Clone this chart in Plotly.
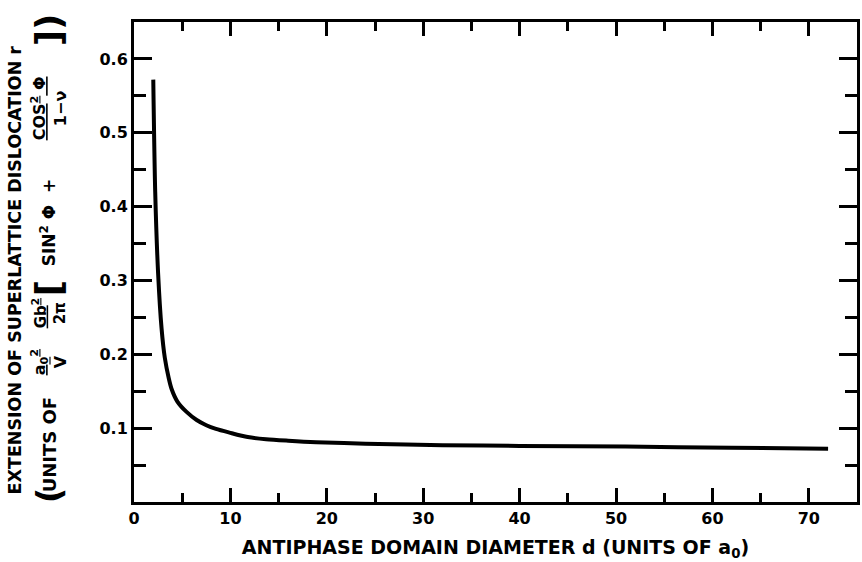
import plotly.graph_objects as go

# Data
diameter_d = [2.0, 2.2, 2.5, 2.86, 3.2, 3.6, 3.9, 4.5, 5.45, 6.5, 7.5, 8.5, 9.9,
              11.8, 13.7, 16.0, 18.9, 24.0, 32.0, 40.0, 51.0, 62.0, 72.0]
extension_r = [0.572, 0.42, 0.31, 0.235, 0.195, 0.168, 0.153, 0.136, 0.122, 0.111,
               0.104, 0.099, 0.094, 0.088, 0.085, 0.083, 0.081, 0.079, 0.077, 0.076,
               0.075, 0.0735, 0.072]

x_tickvals = [0, 10, 20, 30, 40, 50, 60, 70]
x_ticktext = ["0", "10", "20", "30", "40", "50", "60", "70"]
y_tickvals = [0.1, 0.2, 0.3, 0.4, 0.5, 0.6]
y_ticktext = ["0.1", "0.2", "0.3", "0.4", "0.5", "0.6"]

W, H = 862, 562
L, R, T, B = 134, 2, 22, 60
PW, PH = W - L - R, H - T - B

FONT = "DejaVu Sans"

fig = go.Figure()
fig.add_trace(go.Scatter(x=diameter_d, y=extension_r, mode="lines",
                         line=dict(color="black", width=4, shape="spline", smoothing=0.8),
                         showlegend=False, hoverinfo="skip"))

axis_common = dict(showline=True, linecolor="black", linewidth=3, mirror="ticks",
                   ticks="inside", tickcolor="black", tickwidth=3,
                   showgrid=False, zeroline=False,
                   tickfont=dict(family=FONT, size=16, color="black", weight="bold"))

fig.update_xaxes(range=[0, 75], tickmode="array", tickvals=x_tickvals, ticktext=x_ticktext,
                 ticklen=14, minor=dict(dtick=5, tick0=0, ticks="inside", ticklen=9,
                                        tickwidth=3, tickcolor="black"),
                 title=dict(text="ANTIPHASE DOMAIN DIAMETER d (UNITS OF a<sub>0</sub>)",
                            font=dict(family=FONT, size=19, color="black", weight="bold"),
                            standoff=14),
                 **axis_common)
fig.update_yaxes(range=[0, 0.65], tickmode="array", tickvals=y_tickvals, ticktext=y_ticktext,
                 ticklen=18, minor=dict(dtick=0.05, tick0=0, ticks="inside", ticklen=12,
                                        tickwidth=3, tickcolor="black"),
                 **axis_common)


def px2paper(px, py):
    return (px - L) / PW, (H - B - py) / PH


annots = []


def add_text(text, px, py, size=15):
    x, y = px2paper(px, py)
    annots.append(dict(text=text, x=x, y=y, xref="paper", yref="paper",
                       xanchor="center", yanchor="middle", showarrow=False, textangle=-90,
                       font=dict(family=FONT, size=size, color="black", weight="bold")))


# y-axis title, line 1
add_text("EXTENSION OF SUPERLATTICE DISLOCATION r", 15, 270, 17.5)
# y-axis title, line 2 with stacked fractions
add_text("(", 49, 495, 34)
add_text("UNITS OF", 49, 445, 18)
add_text("<u>a<sub>0</sub><sup>2</sup></u><br>V", 49, 362, 16)
add_text("<u>Gb<sup>2</sup></u><br>2π", 49, 313, 15)
add_text("[", 48, 288, 36)
add_text("SIN<sup>2</sup> Φ  +", 48, 222, 17)
add_text("<u>COS<sup>2</sup> Φ</u><br>1−ν", 49, 108, 16)
add_text("])", 48, 30, 36)

fig.update_layout(width=W, height=H, margin=dict(l=L, r=R, t=T, b=B),
                  paper_bgcolor="white", plot_bgcolor="white", annotations=annots)

fig.write_html("out.html")
